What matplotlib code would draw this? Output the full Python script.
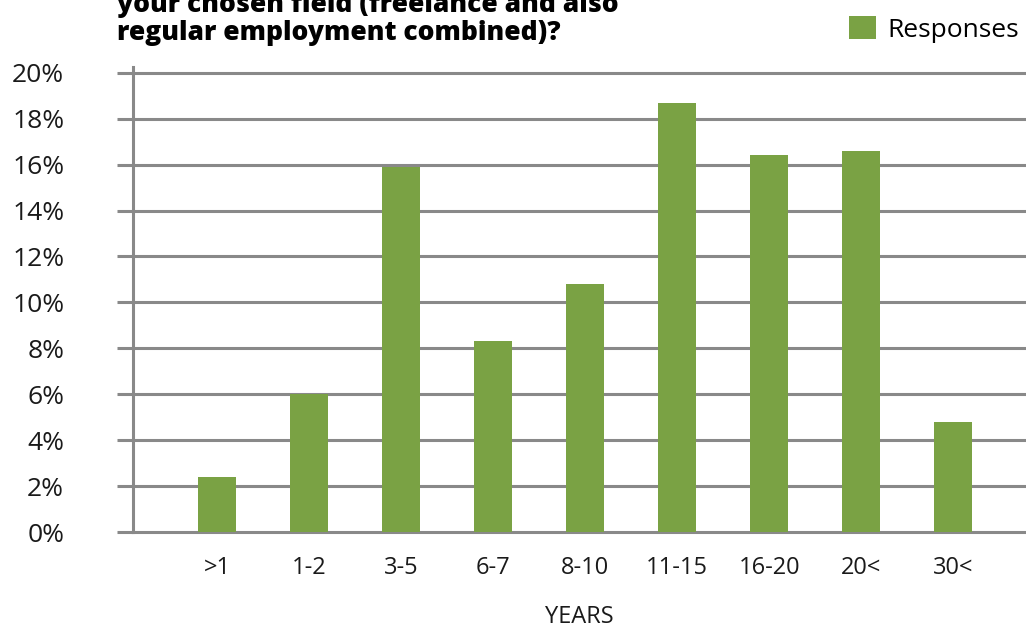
#! /usr/bin/env python3
import numpy as np
from matplotlib import pyplot as plt

categories = [">1", "1-2", "3-5", "6-7", "8-10", "11-15", "16-20", "20<", "30<"]
responses = [2.4, 6.0, 15.9, 8.3, 10.8, 18.7, 16.4, 16.6, 4.8]  # percent
yticks = [0, 2, 4, 6, 8, 10, 12, 14, 16, 18, 20]

green = "#7aa244"
grid_grey = "#898989"
text_col = "#1a1a1a"

plt.rcParams["font.family"] = ["Open Sans", "DejaVu Sans"]

fig = plt.figure(figsize=(10.26, 6.25), dpi=100)
ax = fig.add_axes([0.1296, 0.1488, 0.8704, 0.744])

x = np.arange(len(categories))
ax.bar(x, responses, width=0.41, color=green, zorder=3, label="Responses")

ax.set_xlim(-0.913, 8.79)
ax.set_ylim(0, 20.25)
ax.set_yticks(yticks)
ax.set_yticklabels([f"{v}%" for v in yticks])
ax.set_xticks(x)
ax.set_xticklabels(categories)

for v in yticks:
    ax.axhline(v, color=grid_grey, lw=2.2, zorder=1, clip_on=False)

for side in ["top", "right", "bottom"]:
    ax.spines[side].set_visible(False)
ax.spines["left"].set_color(grid_grey)
ax.spines["left"].set_linewidth(2.2)

ax.tick_params(axis="y", length=11.5, width=2.2, color=grid_grey,
               pad=38, labelsize=19, labelcolor=text_col)
ax.tick_params(axis="x", length=0, pad=17, labelsize=17, labelcolor=text_col)

ax.set_xlabel("YEARS", fontsize=17, color=text_col, labelpad=18)

fig.text(0.114, 0.926, "your chosen field (freelance and also\nregular employment combined)?",
         fontsize=19, fontweight="heavy", ha="left", va="bottom", linespacing=1.1)

ax.legend(loc="upper left", bbox_to_anchor=(0.802, 1.11), frameon=False,
          fontsize=19, handlelength=1.0, handleheight=1.0, handletextpad=0.45,
          borderaxespad=0, borderpad=0)

fig.savefig("out.png", dpi=100)
